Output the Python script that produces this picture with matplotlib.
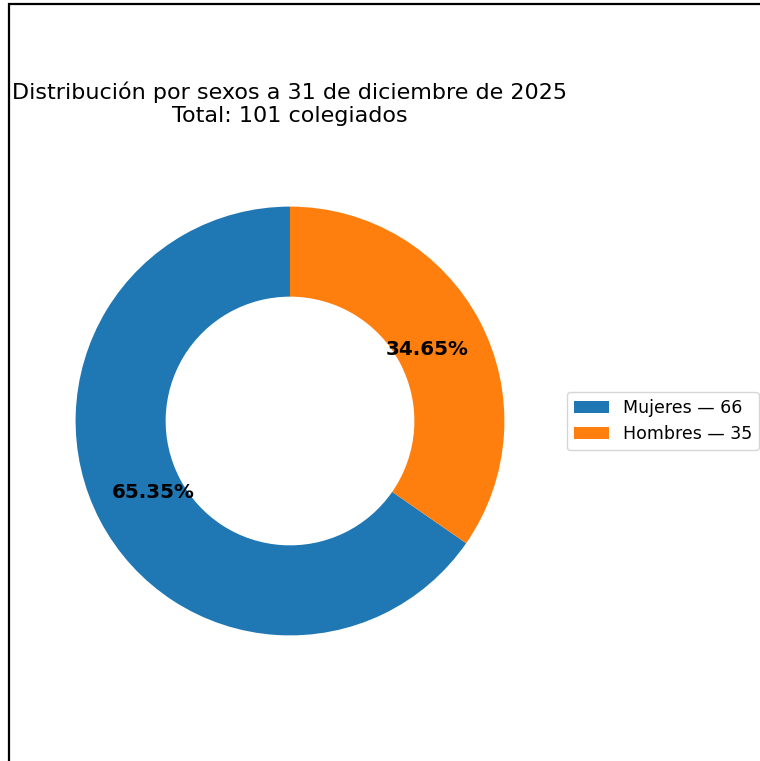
import matplotlib
matplotlib.use("Agg")
import matplotlib.pyplot as plt
from matplotlib.patches import Rectangle

# datos
sexos = ["Mujeres", "Hombres"]
colegiados = [66, 35]
colores = ["#1f77b4", "#ff7f0e"]
fecha = "31 de diciembre de 2025"

total = sum(colegiados)

fig = plt.figure(figsize=(7.6, 7.61), dpi=100)
ax = fig.add_axes([22 / 760, 72 / 761, 536 / 760, 536 / 761])

wedges, textos, autotextos = ax.pie(
    colegiados, colors=colores, startangle=90, autopct="%1.2f%%",
    pctdistance=0.72, wedgeprops=dict(width=0.42))
for t in autotextos:
    t.set_fontsize(14.3)
    t.set_fontweight("bold")
ax.set_aspect("equal")

ax.set_title(f"Distribución por sexos a {fecha}\nTotal: {total} colegiados",
             fontsize=16, pad=22.5)

etiquetas = [f"{s} — {n}" for s, n in zip(sexos, colegiados)]
ax.legend(wedges, etiquetas, loc="center left", fontsize=12.5,
          bbox_to_anchor=(567 / 760, 1 - 421 / 761),
          bbox_transform=fig.transFigure, borderaxespad=0)

# marco recortado de la figura
fig.patches.append(Rectangle((9 / 760, -0.5), 2, 0.5 + 1 - 4 / 761,
                             transform=fig.transFigure, fill=False,
                             edgecolor="black", linewidth=1.6))

fig.savefig("out.png", dpi=100)
